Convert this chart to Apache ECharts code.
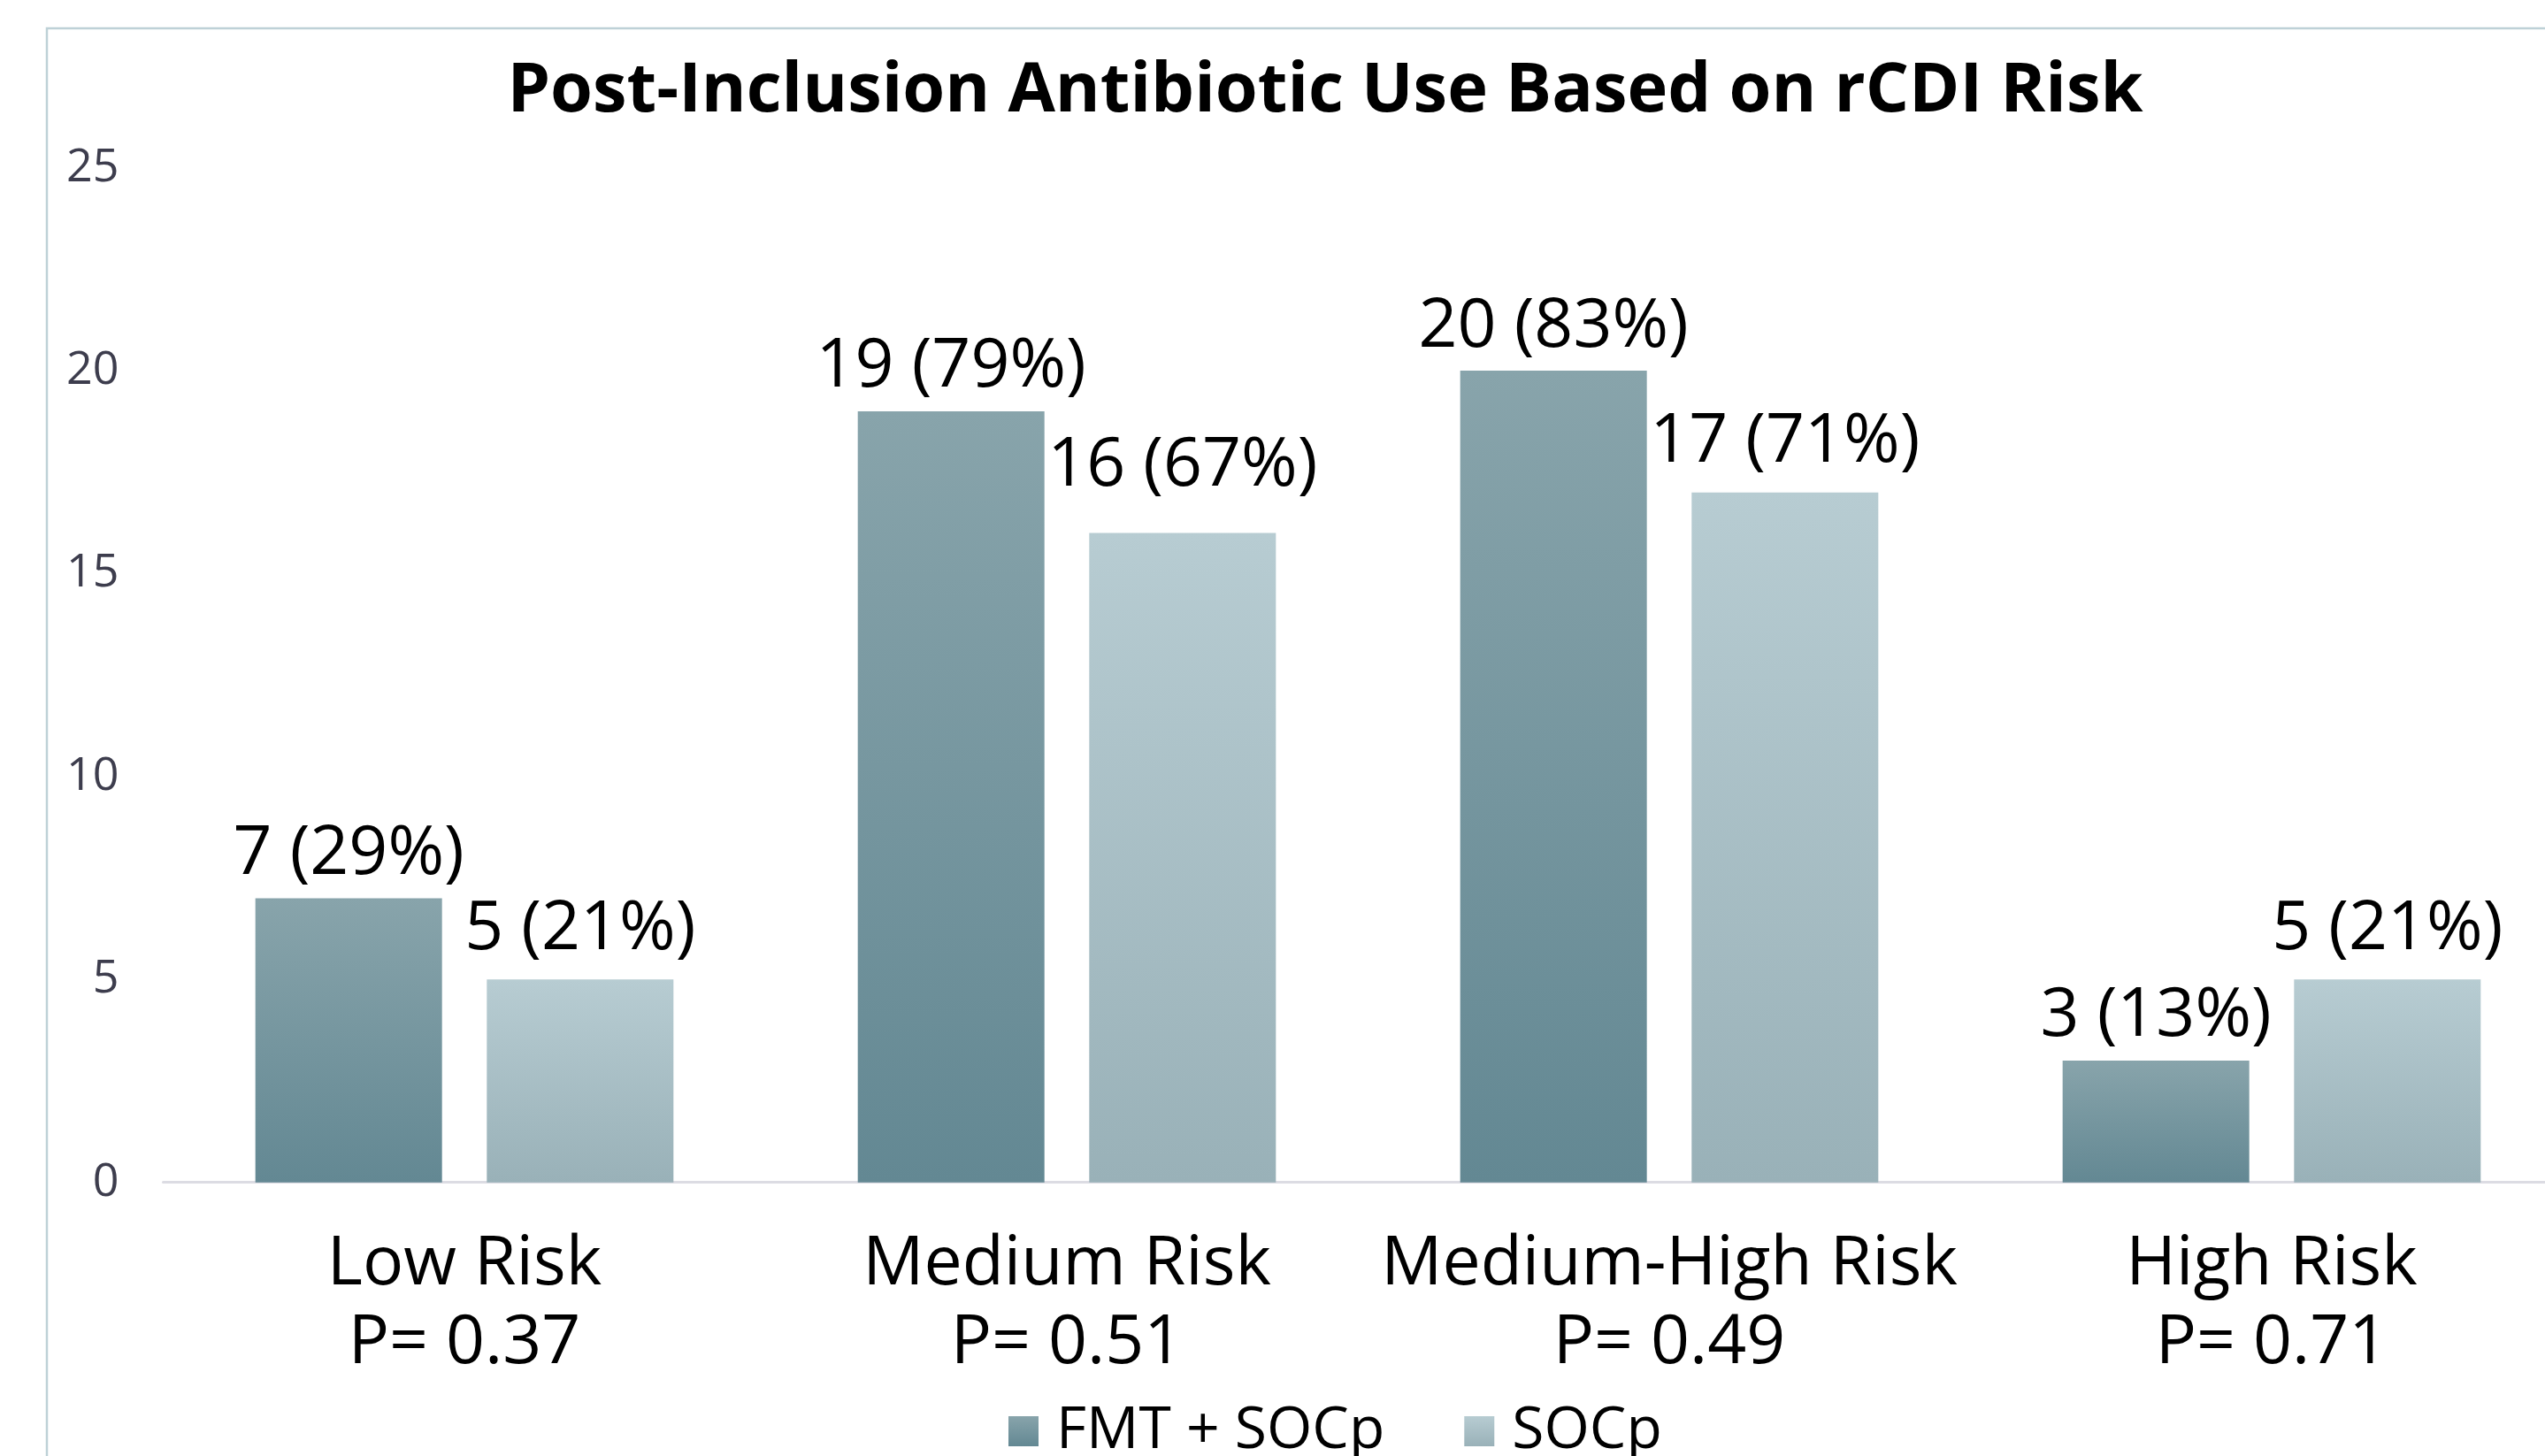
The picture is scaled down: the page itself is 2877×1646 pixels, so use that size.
<!DOCTYPE html>
<html>
<head>
<meta charset="utf-8">
<title>Post-Inclusion Antibiotic Use Based on rCDI Risk</title>
<script src="https://cdn.jsdelivr.net/npm/echarts@6/dist/echarts.min.js"></script>
<style>
  html, body { margin: 0; padding: 0; background: #ffffff; }
  #chart { width: 2877px; height: 1646px; }
</style>
</head>
<body>
<div id="chart"></div>
<script>
// Risk groups (two-line axis labels: group name + p-value)
const riskGroups = ['Low Risk', 'Medium Risk', 'Medium-High Risk', 'High Risk'];
const pValues = ['P= 0.37', 'P= 0.51', 'P= 0.49', 'P= 0.71'];

// Patients receiving antibiotics after inclusion, count and share of group
const fmtCounts = [7, 19, 20, 3];
const fmtPercents = [29, 79, 83, 13];
const socpCounts = [5, 16, 17, 5];
const socpPercents = [21, 67, 71, 21];

const seriesNames = ['FMT + SOCp', 'SOCp'];
const yTicks = { min: 0, max: 25, interval: 5 };

// Gap between a bar top and its value label, per series and per group
const fmtLabelGap = [11, 11, 11, 11];
const socpLabelGap = [18, 37, 18, 18];

const chart = echarts.init(document.getElementById('chart'), null, { renderer: 'canvas' });

const baseFont = '"Open Sans", "Noto Sans", sans-serif';

function verticalGradient(top, bottom) {
  return new echarts.graphic.LinearGradient(0, 0, 0, 1, [
    { offset: 0, color: top },
    { offset: 1, color: bottom }
  ]);
}

function barSeries(name, counts, percents, gaps, top, bottom) {
  return {
    name: name,
    type: 'bar',
    barWidth: 211,
    barGap: '24%',
    data: counts.map(function (v, i) {
      return { value: v, label: { distance: gaps[i] } };
    }),
    itemStyle: { color: verticalGradient(top, bottom) },
    label: {
      show: true,
      position: 'top',
      color: '#000000',
      fontFamily: baseFont,
      fontSize: 77,
      lineHeight: 77,
      formatter: function (p) {
        return p.value + ' (' + percents[p.dataIndex] + '%)';
      }
    }
  };
}

const option = {
  backgroundColor: '#ffffff',
  animation: false,
  title: {
    text: 'Post-Inclusion Antibiotic Use Based on rCDI Risk',
    left: 1493,
    top: 60,
    textAlign: 'center',
    textStyle: {
      fontFamily: baseFont,
      fontWeight: 'bold',
      fontSize: 77.5,
      lineHeight: 78,
      color: '#000000'
    }
  },
  legend: {
    data: seriesNames,
    left: 1140,
    top: 1585,
    padding: 0,
    itemWidth: 34,
    itemHeight: 34,
    itemGap: 90,
    selectedMode: false,
    icon: 'rect',
    textStyle: {
      fontFamily: baseFont,
      fontSize: 66,
      lineHeight: 66,
      color: '#000000',
      padding: [0, 0, 0, 15]
    }
  },
  grid: {
    left: 184.5,
    right: -31.5,
    top: 189.7,
    bottom: 309.3,
    containLabel: false,
    outerBoundsMode: 'none'
  },
  xAxis: {
    type: 'category',
    data: riskGroups,
    axisTick: { show: false },
    axisLine: { show: true, lineStyle: { color: '#dcdce3', width: 3 } },
    axisLabel: {
      interval: 0,
      margin: 49,
      color: '#000000',
      fontFamily: baseFont,
      fontSize: 77,
      lineHeight: 89,
      formatter: function (value, index) {
        return value + '\n' + pValues[index];
      }
    }
  },
  yAxis: {
    type: 'value',
    min: yTicks.min,
    max: yTicks.max,
    interval: yTicks.interval,
    axisLine: { show: false },
    axisTick: { show: false },
    splitLine: { show: false },
    axisLabel: {
      margin: 50,
      color: '#3d3d4d',
      fontFamily: baseFont,
      fontSize: 52
    }
  },
  graphic: [
    {
      type: 'rect',
      silent: true,
      z: -10,
      shape: { x: 53, y: 32, width: 3000, height: 2000 },
      style: { fill: 'none', stroke: '#bed1d7', lineWidth: 2.5 }
    }
  ],
  series: [
    barSeries(seriesNames[0], fmtCounts, fmtPercents, fmtLabelGap, '#88a4ab', '#638893'),
    barSeries(seriesNames[1], socpCounts, socpPercents, socpLabelGap, '#b7ccd2', '#99b1b8')
  ]
};

chart.setOption(option);
</script>
</body>
</html>
